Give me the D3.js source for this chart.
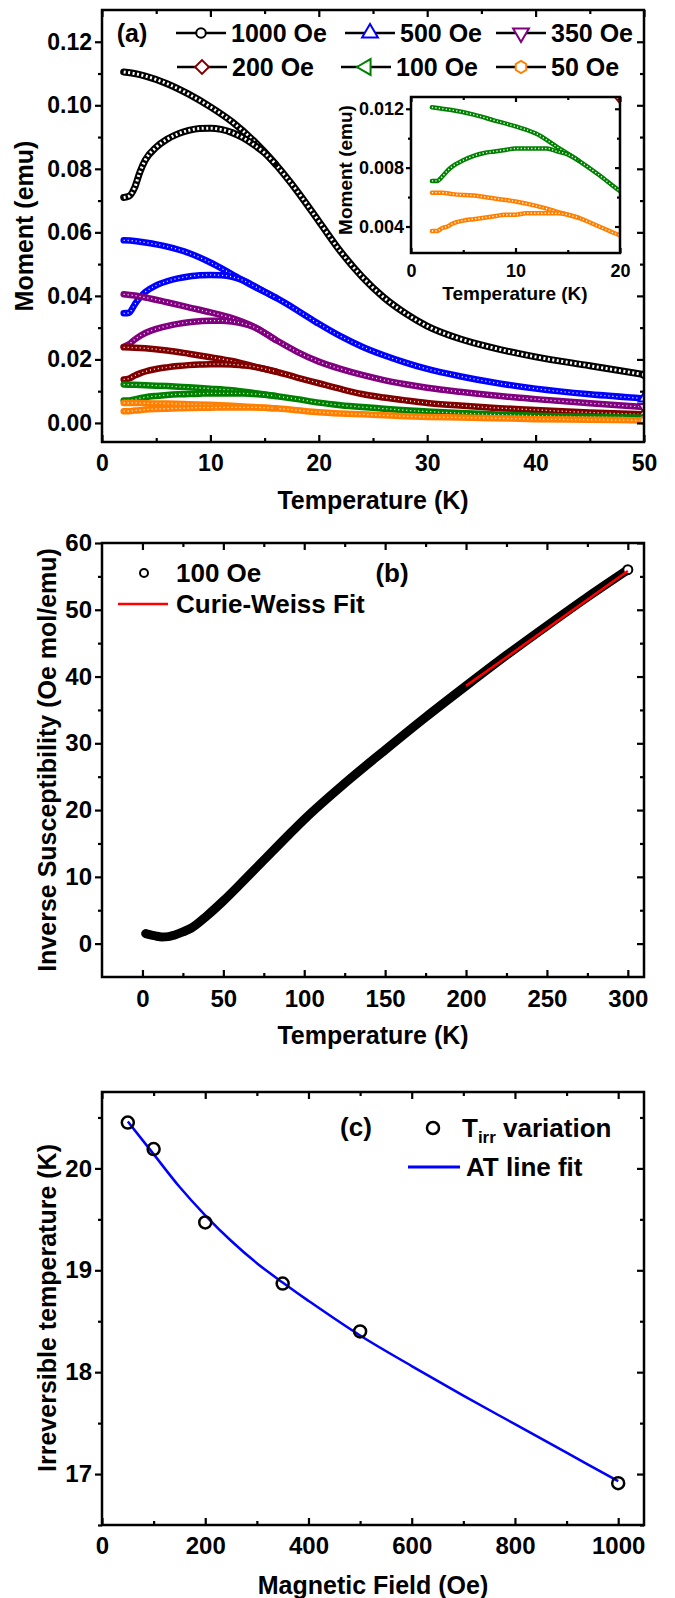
<!DOCTYPE html>
<meta charset="utf-8">
<script src="https://d3js.org/d3.v7.min.js"></script>
<style>
body { margin: 0; background: #fff; }
svg text { font-family: "Liberation Sans", Arial, sans-serif; font-weight: bold; fill: #000; }
.frame { fill: none; stroke: #000; stroke-width: 2.5; }
.axis path { display: none; }
.axis line { stroke: #000; stroke-width: 2.2; }
</style>
<div id="plot"></div>
<script>
// ---------- panel (a): moment vs temperature, FC and ZFC ----------
var fields = ["1000 Oe", "500 Oe", "350 Oe", "200 Oe", "100 Oe", "50 Oe"];
var colors = ["#000000", "#0000ff", "#800080", "#800000", "#008000", "#ff8000"];

var tempFC = [2, 3, 4, 6, 8, 10, 12, 14, 16, 18, 20, 22, 24, 26, 28, 30, 33, 36, 40, 45, 50];
var fc1000 = [0.1105, 0.1100, 0.1092, 0.1068, 0.1035, 0.0995, 0.0948, 0.0888, 0.0815, 0.0730, 0.0635, 0.0540, 0.0460, 0.0395, 0.0345, 0.0305, 0.0265, 0.0237, 0.0208, 0.0180, 0.0152];
var fc500  = [0.0575, 0.0573, 0.0568, 0.0555, 0.0535, 0.0505, 0.0468, 0.0430, 0.0395, 0.0355, 0.0312, 0.0273, 0.0240, 0.0213, 0.0190, 0.0170, 0.0147, 0.0128, 0.0108, 0.0090, 0.0077];
var fc350  = [0.0405, 0.0401, 0.0395, 0.0380, 0.0364, 0.0348, 0.0330, 0.0303, 0.0262, 0.0224, 0.0193, 0.0170, 0.0151, 0.0135, 0.0122, 0.0111, 0.0098, 0.0087, 0.0075, 0.0062, 0.0050];
var fc200  = [0.0238, 0.0237, 0.0235, 0.0228, 0.0218, 0.0207, 0.0195, 0.0178, 0.0162, 0.0143, 0.0125, 0.0107, 0.0091, 0.0080, 0.0071, 0.0063, 0.0055, 0.0048, 0.0041, 0.0033, 0.0027];
var fc100  = [0.0121, 0.0120, 0.0119, 0.0116, 0.0112, 0.0108, 0.0103, 0.0094, 0.0085, 0.0075, 0.0064, 0.0056, 0.0050, 0.0045, 0.0040, 0.0036, 0.0031, 0.0027, 0.0023, 0.0019, 0.0016];
var fc50   = [0.0063, 0.0063, 0.0062, 0.0061, 0.0059, 0.0057, 0.0054, 0.0050, 0.0046, 0.0040, 0.0034, 0.0030, 0.0027, 0.0024, 0.0021, 0.0019, 0.0017, 0.0015, 0.0012, 0.0010, 0.0008];

var tempZFC = [2, 2.5, 3, 3.5, 4, 5, 6, 7, 8, 9, 10, 11, 12, 13, 14, 15, 16];
var zfc1000 = [0.0710, 0.0714, 0.0740, 0.0790, 0.0828, 0.0868, 0.0893, 0.0910, 0.0921, 0.0927, 0.0928, 0.0924, 0.0914, 0.0898, 0.0876, 0.0850, 0.0815];
var zfc500  = [0.0345, 0.0347, 0.0372, 0.0395, 0.0412, 0.0433, 0.0446, 0.0455, 0.0461, 0.0465, 0.0466, 0.0465, 0.0460, 0.0449, 0.0432, 0.0413, 0.0395];
var zfc350  = [0.0240, 0.0248, 0.0262, 0.0274, 0.0283, 0.0296, 0.0305, 0.0312, 0.0317, 0.0320, 0.0322, 0.0322, 0.0319, 0.0313, 0.0302, 0.0284, 0.0262];
var zfc200  = [0.0137, 0.0140, 0.0149, 0.0156, 0.0162, 0.0170, 0.0175, 0.0179, 0.0182, 0.0184, 0.0185, 0.0185, 0.0184, 0.0181, 0.0177, 0.0170, 0.0162];
var zfc100  = [0.0071, 0.0071, 0.0074, 0.0078, 0.0081, 0.0085, 0.0088, 0.0090, 0.0091, 0.0092, 0.0093, 0.0093, 0.0093, 0.0093, 0.0091, 0.0089, 0.0085];
var zfc50   = [0.0037, 0.0037, 0.0039, 0.0040, 0.0042, 0.0044, 0.0045, 0.0046, 0.0047, 0.0048, 0.0048, 0.0049, 0.0049, 0.0049, 0.0049, 0.0048, 0.0046];

var fcAll = [fc1000, fc500, fc350, fc200, fc100, fc50];
var zfcAll = [zfc1000, zfc500, zfc350, zfc200, zfc100, zfc50];

// ---------- panel (b): inverse susceptibility ----------
var chiT   = [2, 5, 8, 12, 16, 20, 25, 30, 40, 50, 60, 75, 90, 100, 125, 150, 175, 200, 225, 250, 275, 300];
var chiInv = [1.5, 1.3, 1.15, 1.0, 1.05, 1.3, 1.75, 2.3, 4.2, 6.4, 8.8, 12.5, 16.2, 18.6, 24.0, 29.0, 33.9, 38.6, 43.2, 47.6, 51.9, 56.0];
var cwT = [200, 300];
var cwV = [38.6, 55.8];

// ---------- panel (c): irreversibility temperature ----------
var fieldH = [50, 100, 200, 350, 500, 1000];
var tIrr   = [20.45, 20.19, 19.47, 18.87, 18.40, 16.91];
var atH = [50, 100, 150, 200, 250, 300, 350, 400, 500, 600, 700, 800, 900, 1000];
var atT = [20.46, 20.14, 19.82, 19.54, 19.29, 19.07, 18.88, 18.70, 18.36, 18.06, 17.77, 17.49, 17.21, 16.93];

var svg = d3.select("#plot").append("svg")
	.attr("width", 675)
	.attr("height", 1598);

var hexagon = {
	draw: function(ctx, size) {
		var r = Math.sqrt(size / 2.598);
		for (var i = 0; i < 6; i++) {
			var a = (-90 + i * 60) * Math.PI / 180;
			if (i === 0) ctx.moveTo(r * Math.cos(a), r * Math.sin(a));
			else ctx.lineTo(r * Math.cos(a), r * Math.sin(a));
		}
		ctx.closePath();
	}
};
var symbols = [
	{type: d3.symbolCircle, rot: 0, size: 60},
	{type: d3.symbolTriangle, rot: 0, size: 90},
	{type: d3.symbolTriangle, rot: 180, size: 90},
	{type: d3.symbolSquare, rot: 45, size: 80},
	{type: d3.symbolTriangle, rot: -90, size: 90},
	{type: hexagon, rot: 0, size: 80}
];

function marker(g, px, py, i, scale, color) {
	var s = symbols[i];
	g.append("path")
		.attr("d", d3.symbol().type(s.type).size(s.size * scale)())
		.attr("transform", "translate(" + px + "," + py + ") rotate(" + s.rot + ")")
		.attr("fill", "#fff")
		.attr("stroke", color)
		.attr("stroke-width", 2);
}

function axes(g, x, y, o) {
	var x0 = x.range()[0], x1 = x.range()[1], y0 = y.range()[0], y1 = y.range()[1];
	var L = o.len, m = o.minor;
	g.append("g").attr("class", "axis").attr("transform", "translate(0," + y0 + ")")
		.call(d3.axisBottom(x).tickValues(o.xMaj).tickSize(-L).tickPadding(o.xPad).tickFormat(o.xFmt))
		.selectAll("text").style("font-size", o.font + "px");
	g.append("g").attr("class", "axis").attr("transform", "translate(0," + y0 + ")")
		.call(d3.axisBottom(x).tickValues(o.xMin).tickSize(-m).tickFormat(""));
	g.append("g").attr("class", "axis").attr("transform", "translate(0," + y1 + ")")
		.call(d3.axisTop(x).tickValues(o.xMaj).tickSize(-L).tickFormat(""));
	g.append("g").attr("class", "axis").attr("transform", "translate(0," + y1 + ")")
		.call(d3.axisTop(x).tickValues(o.xMin).tickSize(-m).tickFormat(""));
	g.append("g").attr("class", "axis").attr("transform", "translate(" + x0 + ",0)")
		.call(d3.axisLeft(y).tickValues(o.yMaj).tickSize(L).tickPadding(o.yPad).tickFormat(o.yFmt))
		.selectAll("text").style("font-size", o.font + "px");
	g.append("g").attr("class", "axis").attr("transform", "translate(" + x0 + ",0)")
		.call(d3.axisLeft(y).tickValues(o.yMin).tickSize(m).tickFormat(""));
	g.append("g").attr("class", "axis").attr("transform", "translate(" + x1 + ",0)")
		.call(d3.axisRight(y).tickValues(o.yMaj).tickSize(-L).tickFormat(""));
	g.append("g").attr("class", "axis").attr("transform", "translate(" + x1 + ",0)")
		.call(d3.axisRight(y).tickValues(o.yMin).tickSize(-m).tickFormat(""));
	g.append("rect").attr("class", "frame")
		.attr("x", x0).attr("y", y1).attr("width", x1 - x0).attr("height", y0 - y1);
}

function title(txt, px, py, size, rot) {
	svg.append("text")
		.attr("transform", "translate(" + px + "," + py + ")" + (rot ? " rotate(-90)" : ""))
		.attr("text-anchor", "middle")
		.attr("dy", "0.35em")
		.style("font-size", size + "px")
		.text(txt);
}

function band(g, pts, x, y, color, wOut, wIn, dash) {
	var line = d3.line().x(function(d) { return x(d[0]); }).y(function(d) { return y(d[1]); })
		.curve(d3.curveMonotoneX);
	g.append("path").attr("d", line(pts)).attr("fill", "none")
		.attr("stroke", color).attr("stroke-width", wOut)
		.attr("stroke-linejoin", "round").attr("stroke-linecap", "round");
	g.append("path").attr("d", line(pts)).attr("fill", "none")
		.attr("stroke", "#fff").attr("stroke-width", wIn)
		.attr("stroke-dasharray", dash);
}

function zip(a, b) { return a.map(function(v, i) { return [v, b[i]]; }); }

// ================= panel (a) =================
var xA = d3.scaleLinear().domain([0, 50]).range([102, 644]);
var yA = d3.scaleLinear().domain([-0.006, 0.13]).range([442, 10]);

svg.append("clipPath").attr("id", "clipA").append("rect")
	.attr("x", 102).attr("y", 10).attr("width", 542).attr("height", 432);
var gA = svg.append("g").attr("clip-path", "url(#clipA)");

fields.forEach(function(f, i) {
	var fc = zip(tempFC, fcAll[i]);
	var zfc = zip(tempZFC, zfcAll[i]);
	var wOut = i === 0 ? 7 : 6.5;
	var wIn = i === 0 ? 3 : 1.3;
	var dash = i === 0 ? "2,2.5" : "1,3";
	band(gA, fc, xA, yA, colors[i], wOut, wIn, dash);
	band(gA, zfc, xA, yA, colors[i], wOut, wIn, dash);
	var last = fc[fc.length - 1];
	marker(gA, xA(last[0]), yA(last[1]), i, 0.55, colors[i]);
});

axes(svg, xA, yA, {
	xMaj: [0, 10, 20, 30, 40, 50], xMin: [5, 15, 25, 35, 45],
	yMaj: [0, 0.02, 0.04, 0.06, 0.08, 0.10, 0.12], yMin: [0.01, 0.03, 0.05, 0.07, 0.09, 0.11],
	xFmt: d3.format("d"), yFmt: d3.format(".2f"),
	len: 7, minor: 4, xPad: 13, yPad: 3, font: 23
});
title("Temperature (K)", 373, 500, 25, false);
title("Moment (emu)", 24, 226, 25, true);
title("(a)", 132, 33, 25, false);

// legend (a)
var legPos = [[201, 33], [370, 33], [521, 33], [202, 67], [366, 67], [521, 67]];
fields.forEach(function(f, i) {
	var p = legPos[i];
	svg.append("line").attr("x1", p[0] - 25).attr("x2", p[0] + 25)
		.attr("y1", p[1]).attr("y2", p[1])
		.attr("stroke", "#000").attr("stroke-width", 2.5);
	marker(svg, p[0], p[1], i, 1.2, colors[i]);
	svg.append("text").attr("x", p[0] + 30).attr("y", p[1]).attr("dy", "0.35em")
		.style("font-size", "25px").text(f);
});

// inset
var xI = d3.scaleLinear().domain([0, 20]).range([411, 620]);
var yI = d3.scaleLinear().domain([0.0022, 0.0128]).range([253, 97]);
svg.append("rect").attr("x", 411).attr("y", 97).attr("width", 209).attr("height", 156).attr("fill", "#fff");
svg.append("clipPath").attr("id", "clipI").append("rect")
	.attr("x", 411).attr("y", 97).attr("width", 209).attr("height", 156);
var gI = svg.append("g").attr("clip-path", "url(#clipI)");
[3, 4, 5].forEach(function(i) {
	band(gI, zip(tempFC, fcAll[i]), xI, yI, colors[i], 4.5, 1.4, "1.2,2.3");
	band(gI, zip(tempZFC, zfcAll[i]), xI, yI, colors[i], 4.5, 1.4, "1.2,2.3");
});
axes(svg, xI, yI, {
	xMaj: [0, 10, 20], xMin: [5, 15],
	yMaj: [0.004, 0.008, 0.012], yMin: [0.006, 0.010],
	xFmt: d3.format("d"), yFmt: d3.format(".3f"),
	len: 5, minor: 3, xPad: 11, yPad: 2, font: 18
});
title("Temperature (K)", 515, 293, 19, false);
title("Moment (emu)", 345, 170, 19, true);

// ================= panel (b) =================
var xB = d3.scaleLinear().domain([-25, 310]).range([102, 644]);
var yB = d3.scaleLinear().domain([-5, 60]).range([977, 543]);
var lineB = d3.line().x(function(d) { return xB(d[0]); }).y(function(d) { return yB(d[1]); })
	.curve(d3.curveMonotoneX);
var chi = zip(chiT, chiInv);
svg.append("path").attr("d", lineB(chi)).attr("fill", "none")
	.attr("stroke", "#000").attr("stroke-width", 9).attr("stroke-linecap", "round");
svg.append("circle").attr("cx", xB(chiT[chiT.length - 1])).attr("cy", yB(chiInv[chiInv.length - 1]))
	.attr("r", 4.5).attr("fill", "#fff").attr("stroke", "#000").attr("stroke-width", 2);
svg.append("path").attr("d", lineB(zip(cwT, cwV))).attr("fill", "none")
	.attr("stroke", "#ff0000").attr("stroke-width", 2.5);

axes(svg, xB, yB, {
	xMaj: [0, 50, 100, 150, 200, 250, 300], xMin: [25, 75, 125, 175, 225, 275],
	yMaj: [0, 10, 20, 30, 40, 50, 60], yMin: [5, 15, 25, 35, 45, 55],
	xFmt: d3.format("d"), yFmt: d3.format("d"),
	len: 7, minor: 4, xPad: 13, yPad: 3, font: 24
});
title("Temperature (K)", 373, 1035, 25, false);
title("Inverse Susceptibility (Oe mol/emu)", 47, 760, 25, true);

svg.append("circle").attr("cx", 144).attr("cy", 573).attr("r", 4)
	.attr("fill", "#fff").attr("stroke", "#000").attr("stroke-width", 2);
svg.append("text").attr("x", 176).attr("y", 573).attr("dy", "0.35em").style("font-size", "26px").text("100 Oe");
svg.append("line").attr("x1", 118).attr("x2", 168).attr("y1", 604).attr("y2", 604)
	.attr("stroke", "#ff0000").attr("stroke-width", 2.5);
svg.append("text").attr("x", 176).attr("y", 604).attr("dy", "0.35em").style("font-size", "26px").text("Curie-Weiss Fit");
title("(b)", 392, 573, 26, false);

// ================= panel (c) =================
var xC = d3.scaleLinear().domain([0, 1050]).range([102, 644]);
var yC = d3.scaleLinear().domain([16.5, 20.75]).range([1525, 1092]);
var lineC = d3.line().x(function(d) { return xC(d[0]); }).y(function(d) { return yC(d[1]); })
	.curve(d3.curveCatmullRom);
svg.append("path").attr("d", lineC(zip(atH, atT))).attr("fill", "none")
	.attr("stroke", "#0000ff").attr("stroke-width", 2.5);
svg.selectAll(".ptC").data(zip(fieldH, tIrr)).enter().append("circle")
	.attr("class", "ptC")
	.attr("cx", function(d) { return xC(d[0]); })
	.attr("cy", function(d) { return yC(d[1]); })
	.attr("r", 6).attr("fill", "none").attr("stroke", "#000").attr("stroke-width", 2.5);

axes(svg, xC, yC, {
	xMaj: [0, 200, 400, 600, 800, 1000], xMin: [100, 300, 500, 700, 900],
	yMaj: [17, 18, 19, 20], yMin: [16.5, 17.5, 18.5, 19.5, 20.5],
	xFmt: d3.format("d"), yFmt: d3.format("d"),
	len: 7, minor: 4, xPad: 12, yPad: 3, font: 24
});
title("Magnetic Field (Oe)", 373, 1585, 25, false);
title("Irreversible temperature (K)", 47, 1308, 25, true);
title("(c)", 356, 1127, 26, false);

svg.append("circle").attr("cx", 433).attr("cy", 1128).attr("r", 6)
	.attr("fill", "none").attr("stroke", "#000").attr("stroke-width", 2.5);
var tl = svg.append("text").attr("x", 462).attr("y", 1128).attr("dy", "0.35em").style("font-size", "26px");
tl.append("tspan").text("T");
tl.append("tspan").attr("dy", "6").style("font-size", "17px").text("irr");
tl.append("tspan").attr("dy", "-6").text(" variation");
svg.append("line").attr("x1", 408).attr("x2", 460).attr("y1", 1167).attr("y2", 1167)
	.attr("stroke", "#0000ff").attr("stroke-width", 3);
svg.append("text").attr("x", 466).attr("y", 1167).attr("dy", "0.35em").style("font-size", "26px").text("AT line fit");
</script>
